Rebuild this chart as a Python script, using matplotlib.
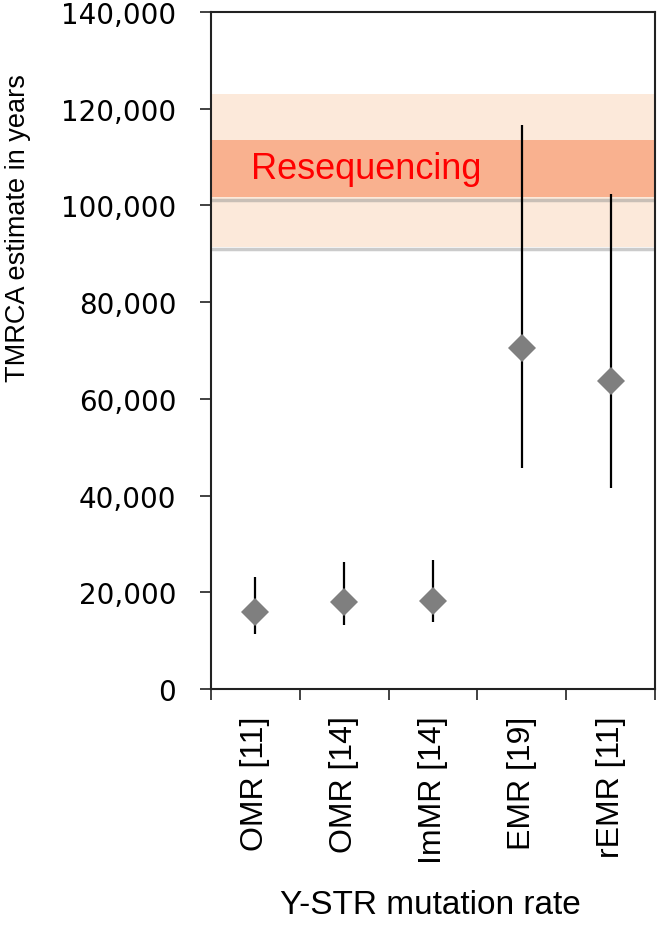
#!/usr/bin/env python3
"""TMRCA-schattingen per Y-STR mutatiesnelheid, met de resequencing-band."""

import matplotlib
matplotlib.use("Agg")
import matplotlib.pyplot as plt
from matplotlib.ticker import FuncFormatter, FixedLocator

categorieen = ["OMR [11]", "OMR [14]", "ImMR [14]", "EMR [19]", "rEMR [11]"]
schatting = [15900, 18000, 18200, 70600, 63600]
onder = [11400, 13300, 13900, 45600, 41600]
boven = [23200, 26300, 26700, 116600, 102300]

# resequencing-interval: breed (licht) en smal (donker)
band_breed = (91500, 123000)
band_smal = (101700, 113500)

y_ticks = [0, 20000, 40000, 60000, 80000, 100000, 120000, 140000]

LICHT = "#fce9da"
DONKER = "#f9b18f"
GRIJS = "#7f7f7f"

fig = plt.figure(figsize=(6.66, 9.28), dpi=100)
ax = fig.add_axes([211 / 666, 1 - 690 / 928, 444 / 666, 677 / 928])

x = list(range(len(categorieen)))

ax.axhspan(*band_breed, color=LICHT, lw=0, zorder=1)
ax.axhspan(*band_smal, color=DONKER, lw=0, zorder=1.1)
# zachte schaduw onder de banden
for rand in (band_breed[0], band_smal[0]):
    ax.axhline(rand - 500, color="#8c8c8c", lw=2.5, alpha=0.45, zorder=1.05)

ax.text(
    0.35, sum(band_smal) / 2, "Resequencing",
    transform=ax.get_yaxis_transform(),
    color="#ff0000", fontsize=26, family="Liberation Sans",
    ha="center", va="center", zorder=2,
)

ax.vlines(x, onder, boven, color="black", lw=1.6, zorder=3)
ax.plot(x, schatting, ls="none", marker="D", ms=14, color=GRIJS,
        markeredgewidth=0, zorder=4)

ax.set_xlim(-0.5, len(categorieen) - 0.5)
ax.set_ylim(0, 140000)

ax.yaxis.set_major_locator(FixedLocator(y_ticks))
ax.yaxis.set_major_formatter(FuncFormatter(lambda v, p: f"{int(v):,}"))
ax.tick_params(axis="y", direction="out", length=8, width=1.3, pad=17,
               labelsize=20, color="#333333")
for lab in ax.get_yticklabels():
    lab.set_family("DejaVu Sans")

ax.set_xticks([i - 0.5 for i in range(len(categorieen) + 1)])
ax.set_xticklabels([])
ax.set_xticks(x, minor=True)
ax.set_xticklabels(categorieen, minor=True, rotation=90, ha="center", va="top",
                   family="Liberation Sans", fontsize=23)
ax.tick_params(axis="x", which="major", direction="out", length=8, width=1.3,
               color="#333333")
ax.tick_params(axis="x", which="minor", length=0, pad=19)

for spine in ax.spines.values():
    spine.set_linewidth(1.5)
    spine.set_color("#222222")

fig.text(430 / 666, 1 - 906 / 928, "Y-STR mutation rate", ha="center",
         va="center", fontsize=24, family="Liberation Sans")
fig.text(18 / 666, 1 - 228 / 928, "TMRCA estimate in years", ha="center",
         va="center", rotation=90, fontsize=19.5, family="Liberation Sans")

fig.savefig("out.png", dpi=100)
